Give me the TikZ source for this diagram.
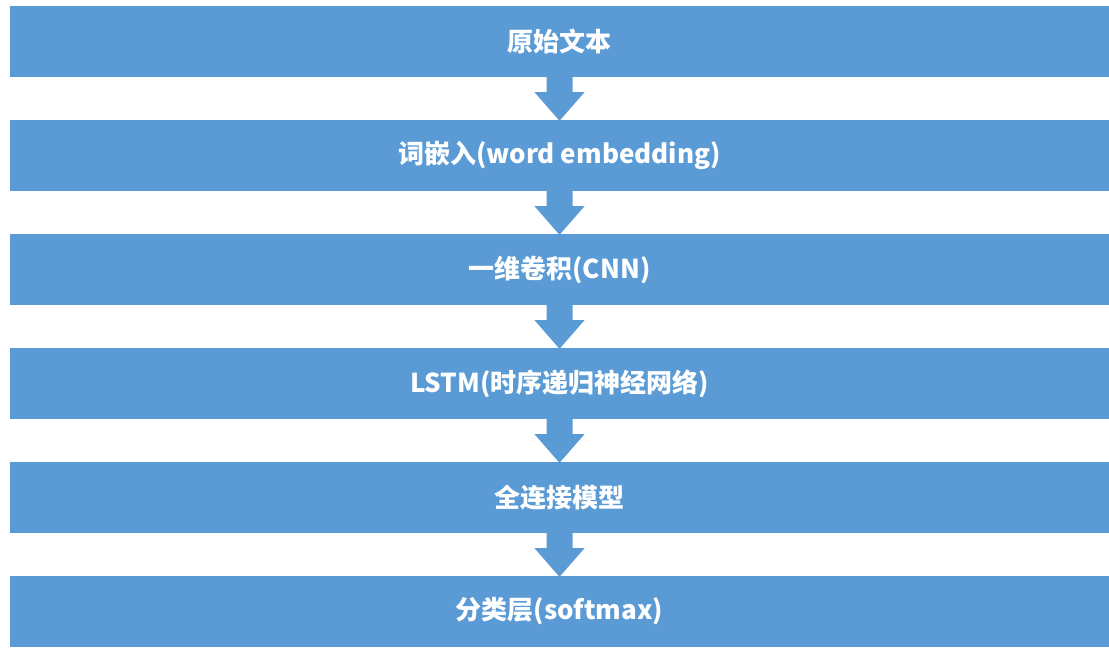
\documentclass[tikz,border=0pt]{standalone}
\usepackage{fontspec}
\newfontfamily\cjk{Noto Sans CJK SC}
\usetikzlibrary{calc}
\definecolor{boxblue}{HTML}{5B9BD5}
\tikzset{
  stage/.style={fill=boxblue, draw=none, minimum width=1099pt, minimum height=71pt, inner sep=0pt, text=white, font=\cjk\bfseries\fontsize{26}{30}\selectfont},
  blockarrow/.style={fill=boxblue, draw=none}
}
\newcommand{\blockarr}[2]{%
  \fill[blockarrow] ($(#1.south)+(-13pt,0)$) -- ($(#1.south)+(13pt,0)$) -- ($(#1.south)+(13pt,-15pt)$) -- ($(#1.south)+(25pt,-15pt)$) -- ($(#2.north)+(0,-1pt)$) -- ($(#1.south)+(-25pt,-15pt)$) -- ($(#1.south)+(-13pt,-15pt)$) -- cycle;}
\begin{document}
\begin{tikzpicture}[x=1pt,y=1pt]
\useasboundingbox (0,0) rectangle (1109,649);
\fill[white] (0,0) rectangle (1109,649);
\node[stage] (b1) at (559.5,607.5) {原始文本};
\node[stage] (b2) at (559.5,493.5) {词嵌入(word embedding)};
\node[stage] (b3) at (559.5,379.5) {一维卷积(CNN)};
\node[stage] (b4) at (559.5,265.5) {LSTM(时序递归神经网络)};
\node[stage] (b5) at (559.5,151.5) {全连接模型};
\node[stage] (b6) at (559.5,37.5) {分类层(softmax)};
\blockarr{b1}{b2}
\blockarr{b2}{b3}
\blockarr{b3}{b4}
\blockarr{b4}{b5}
\blockarr{b5}{b6}
\end{tikzpicture}
\end{document}
